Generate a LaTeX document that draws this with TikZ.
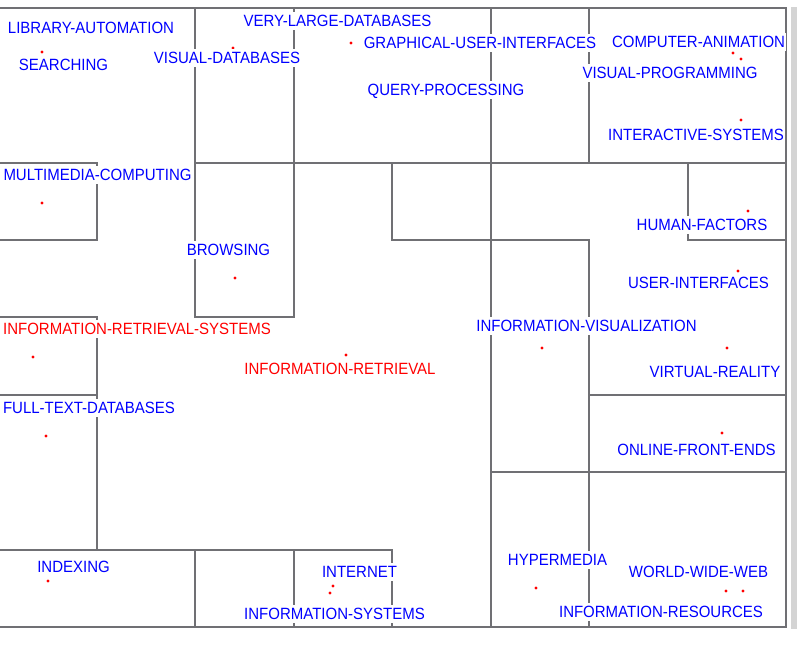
\documentclass[tikz,border=0pt]{standalone}
\usepackage{fontspec}
\setmainfont[FakeStretch=0.92]{Liberation Sans}
\definecolor{lbl}{RGB}{0,0,255}
\definecolor{hot}{RGB}{255,0,0}
\definecolor{frame}{RGB}{112,112,116}
\definecolor{band}{RGB}{212,212,212}
\begin{document}
\begin{tikzpicture}[x=1pt,y=-1pt,
  wall/.style={draw=frame,line width=1.4pt,line cap=rect},
  term/.style={font=\fontsize{16.3}{16.3}\selectfont,text=lbl,fill=white,inner xsep=0.5pt,inner ysep=3pt,text height=11.7pt,text depth=0pt},
  hterm/.style={term,text=hot},
  spot/.style={circle,fill=hot,inner sep=0pt,minimum size=3.4pt}]
\useasboundingbox (0,0) rectangle (797,652);
\fill[white] (0,0) rectangle (797,652);
\fill[band] (791,7) rectangle (797,629);
% frame
\draw[wall] (0,8) -- (786,8) -- (786,627) -- (0,627);
% top region verticals
\draw[wall] (195,8) -- (195,317) -- (294,317) -- (294,8);
\draw[wall] (491,8) -- (491,627);
\draw[wall] (589,8) -- (589,163);
\draw[wall] (589,240) -- (589,627);
\draw[wall] (195,163) -- (786,163);
% multimedia box
\draw[wall] (0,163) -- (97,163) -- (97,240) -- (0,240);
% middle steps
\draw[wall] (392,163) -- (392,240) -- (589,240);
\draw[wall] (688,163) -- (688,240) -- (786,240);
\draw[wall] (589,395) -- (786,395);
\draw[wall] (491,472) -- (786,472);
% left column
\draw[wall] (0,317) -- (97,317) -- (97,550);
\draw[wall] (0,395) -- (97,395);
% bottom-left
\draw[wall] (0,550) -- (392,550) -- (392,627);
\draw[wall] (195,550) -- (195,627);
\draw[wall] (294,550) -- (294,627);
% dots
\node[spot] (d1) at (42,52) {};
\node[spot] (d2) at (233,48) {};
\node[spot] (d3) at (351,43) {};
\node[spot] (d4) at (733,53) {};
\node[spot] (d5) at (741,59) {};
\node[spot] (d6) at (741,120) {};
\node[spot] (d7) at (42,203) {};
\node[spot] (d8) at (235,278) {};
\node[spot] (d9) at (748,211) {};
\node[spot] (d10) at (738,271) {};
\node[spot] (d11) at (33,357) {};
\node[spot] (d12) at (346,355) {};
\node[spot] (d13) at (46,436) {};
\node[spot] (d14) at (542,348) {};
\node[spot] (d15) at (727,348) {};
\node[spot] (d16) at (722,433) {};
\node[spot] (d17) at (48,581) {};
\node[spot] (d18) at (333,586) {};
\node[spot] (d19) at (330,593) {};
\node[spot] (d20) at (536,588) {};
\node[spot] (d21) at (726,591) {};
\node[spot] (d22) at (743,591) {};
% labels
\node[term] (t1) at (91,28) {LIBRARY-AUTOMATION};
\node[term] (t2) at (63.5,65) {SEARCHING};
\node[term] (t3) at (227,58) {VISUAL-DATABASES};
\node[term] (t4) at (337.5,21) {VERY-LARGE-DATABASES};
\node[term] (t5) at (480,43) {GRAPHICAL-USER-INTERFACES};
\node[term] (t6) at (446,90) {QUERY-PROCESSING};
\node[term] (t7) at (698.5,42) {COMPUTER-ANIMATION};
\node[term] (t8) at (670,73) {VISUAL-PROGRAMMING};
\node[term] (t9) at (696,135) {INTERACTIVE-SYSTEMS};
\node[term] (t10) at (97.5,175) {MULTIMEDIA-COMPUTING};
\node[term] (t11) at (228.5,250) {BROWSING};
\node[term] (t12) at (702,225) {HUMAN-FACTORS};
\node[term] (t13) at (698.5,283) {USER-INTERFACES};
\node[hterm] (t14) at (137,329) {INFORMATION-RETRIEVAL-SYSTEMS};
\node[hterm] (t15) at (340,369) {INFORMATION-RETRIEVAL};
\node[term] (t16) at (89,408) {FULL-TEXT-DATABASES};
\node[term] (t17) at (586.5,326) {INFORMATION-VISUALIZATION};
\node[term] (t18) at (715,372) {VIRTUAL-REALITY};
\node[term] (t19) at (696.5,450) {ONLINE-FRONT-ENDS};
\node[term] (t20) at (73.5,567) {INDEXING};
\node[term] (t21) at (359.5,572) {INTERNET};
\node[term] (t22) at (334.5,614) {INFORMATION-SYSTEMS};
\node[term] (t23) at (557.5,560) {HYPERMEDIA};
\node[term] (t24) at (698.5,572) {WORLD-WIDE-WEB};
\node[term] (t25) at (661,612) {INFORMATION-RESOURCES};
\end{tikzpicture}
\end{document}
